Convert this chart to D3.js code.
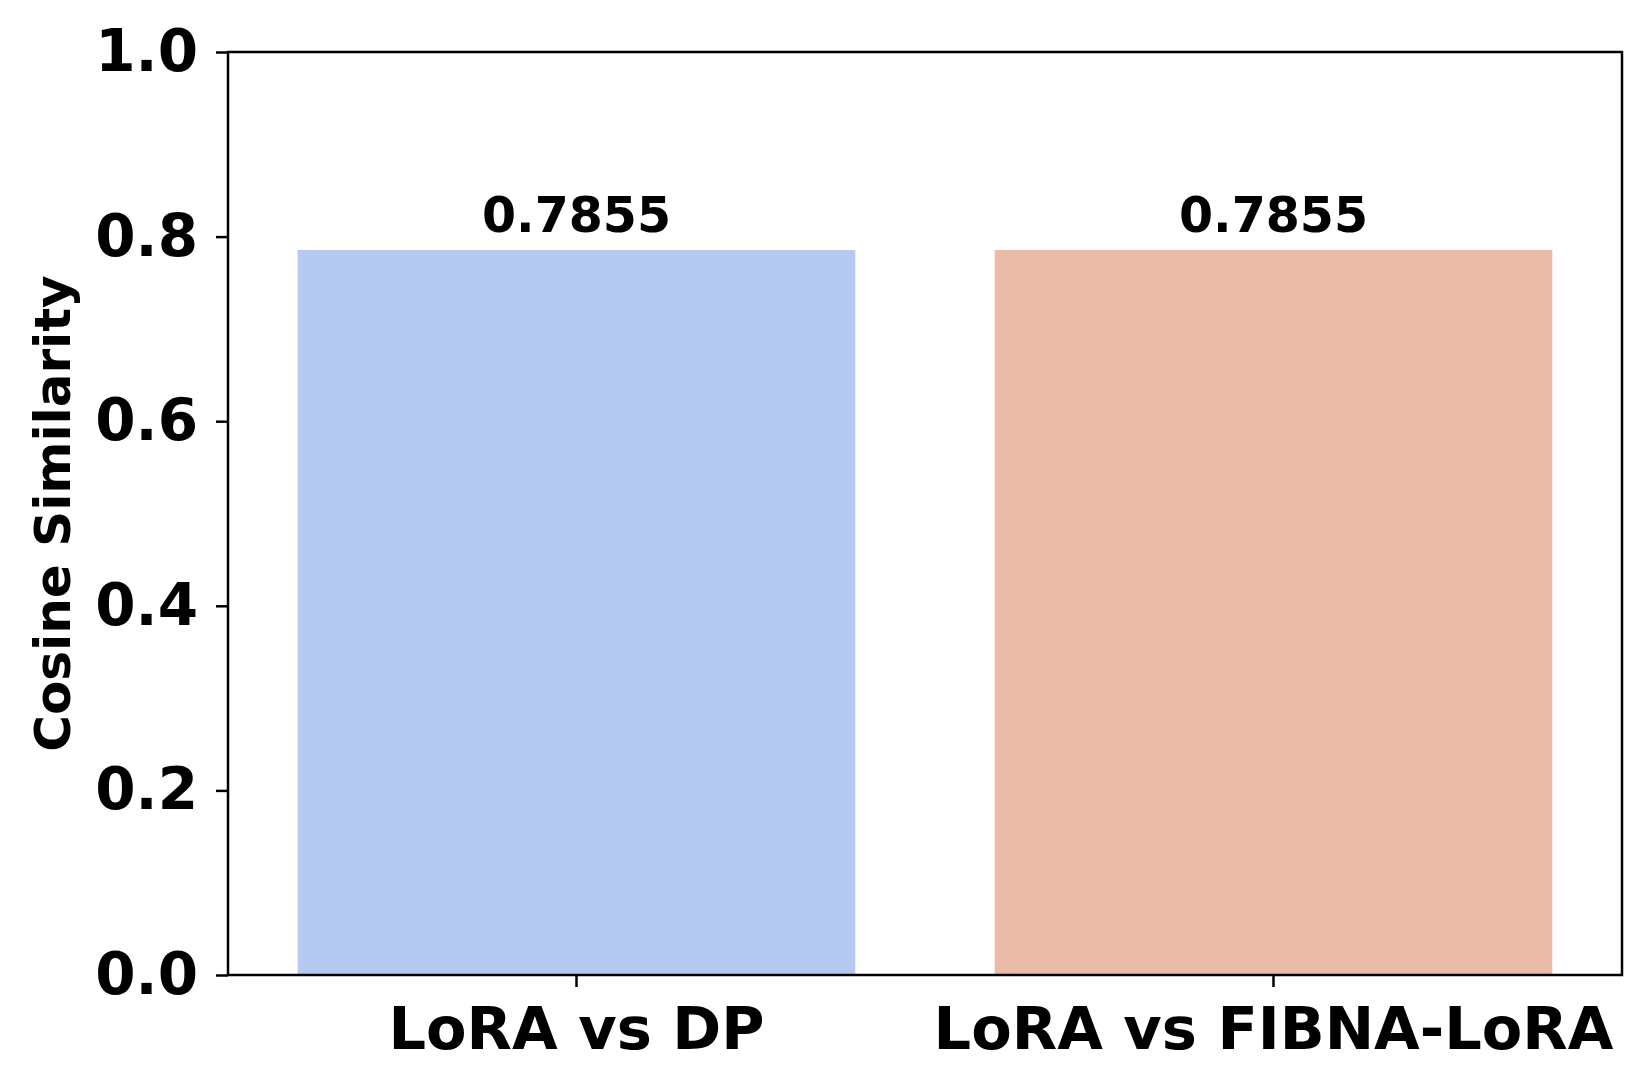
<!DOCTYPE html>
<html>
<head>
<meta charset="utf-8">
<script src="https://cdn.jsdelivr.net/npm/d3@7"></script>
<style>
  body { margin: 0; background: #fff; }
  text { font-family: "DejaVu Sans", sans-serif; font-weight: bold; fill: #000; }
</style>
</head>
<body>
<svg id="chart" width="1652" height="1092"></svg>
<script>
// data
var categories = ["LoRA vs DP", "LoRA vs FIBNA-LoRA"];
var similarity = [0.7855, 0.7855];
var barColors = ["#b5c9f1", "#eabba6"];
var yTicks = [0.0, 0.2, 0.4, 0.6, 0.8, 1.0];

var svg = d3.select("#chart"),
  margin = {top: 52, right: 30, bottom: 117, left: 228},
  width = +svg.attr("width") - margin.left - margin.right,
  height = +svg.attr("height") - margin.top - margin.bottom;

var g = svg.append("g")
  .attr("transform", "translate(" + margin.left + "," + margin.top + ")");

// scales
var x = d3.scaleBand().domain(categories).range([0, width])
  .paddingInner(0.2).paddingOuter(0.1);
var y = d3.scaleLinear().domain([0, 1]).range([height, 0]);

// bars
g.selectAll(".bar")
  .data(similarity)
  .enter().append("rect")
  .attr("class", "bar")
  .attr("x", function(d, i) { return x(categories[i]); })
  .attr("y", function(d) { return y(d); })
  .attr("width", x.bandwidth())
  .attr("height", function(d) { return height - y(d); })
  .style("fill", function(d, i) { return barColors[i]; });

// value labels
g.selectAll(".val")
  .data(similarity)
  .enter().append("text")
  .attr("class", "val")
  .attr("x", function(d, i) { return x(categories[i]) + x.bandwidth() / 2; })
  .attr("y", function(d) { return y(d) - 18; })
  .attr("text-anchor", "middle")
  .style("font-size", "49px")
  .text(function(d) { return d.toFixed(4); });

// axes
var xAxis = g.append("g")
  .attr("transform", "translate(0," + height + ")")
  .call(d3.axisBottom(x).tickSize(12).tickPadding(20).tickSizeOuter(0));
xAxis.selectAll("text").style("font-size", "59px");

var yAxis = g.append("g")
  .call(d3.axisLeft(y).tickValues(yTicks).tickFormat(d3.format(".1f"))
    .tickSize(12).tickPadding(18).tickSizeOuter(0));
yAxis.selectAll("text").style("font-size", "58px");

g.selectAll(".domain").remove();
g.selectAll(".tick line").style("stroke", "#000").style("stroke-width", 2.5);

// frame (spines)
g.append("rect")
  .attr("x", 0).attr("y", 0)
  .attr("width", width).attr("height", height)
  .style("fill", "none")
  .style("stroke", "#000")
  .style("stroke-width", 2.5);

// y label
svg.append("text")
  .attr("transform", "translate(70," + (margin.top + height / 2) + ") rotate(-90)")
  .attr("text-anchor", "middle")
  .style("font-size", "50px")
  .text("Cosine Similarity");
</script>
</body>
</html>
